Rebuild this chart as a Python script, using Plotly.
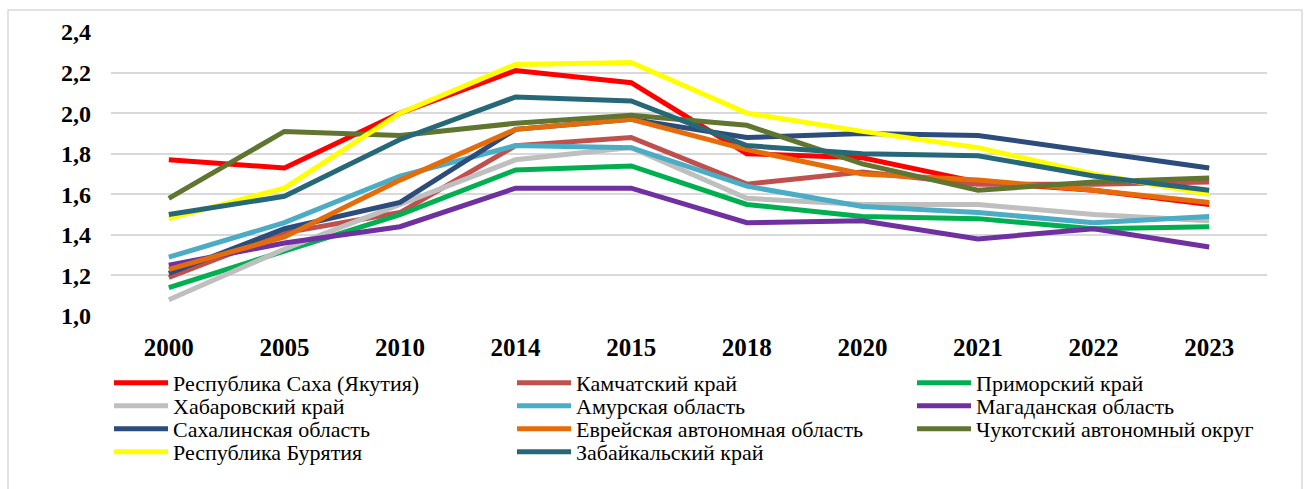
import plotly.graph_objects as go

years = ["2000", "2005", "2010", "2014", "2015", "2018", "2020", "2021", "2022", "2023"]

saha = [1.77, 1.73, 2.00, 2.21, 2.15, 1.80, 1.78, 1.66, 1.62, 1.55]
kamchatka = [1.19, 1.41, 1.51, 1.84, 1.88, 1.65, 1.71, 1.65, 1.65, 1.66]
primorsky = [1.14, 1.32, 1.50, 1.72, 1.74, 1.55, 1.49, 1.48, 1.43, 1.44]
khabarovsk = [1.08, 1.33, 1.55, 1.77, 1.83, 1.58, 1.55, 1.55, 1.50, 1.47]
amur = [1.29, 1.46, 1.69, 1.84, 1.83, 1.64, 1.54, 1.51, 1.46, 1.49]
magadan = [1.25, 1.36, 1.44, 1.63, 1.63, 1.46, 1.47, 1.38, 1.43, 1.34]
sakhalin = [1.21, 1.43, 1.56, 1.92, 1.97, 1.88, 1.90, 1.89, 1.81, 1.73]
jewish = [1.23, 1.39, 1.67, 1.92, 1.97, 1.82, 1.70, 1.67, 1.62, 1.56]
chukotka = [1.58, 1.91, 1.89, 1.95, 1.99, 1.94, 1.75, 1.62, 1.66, 1.68]
buryatia = [1.48, 1.63, 2.00, 2.24, 2.25, 2.00, 1.91, 1.83, 1.70, 1.60]
zabaykalsky = [1.50, 1.59, 1.87, 2.08, 2.06, 1.84, 1.80, 1.79, 1.69, 1.62]

series = [
    ("Республика Саха (Якутия)", saha, "#FF0000"),
    ("Камчатский край", kamchatka, "#C0504D"),
    ("Приморский край", primorsky, "#00B050"),
    ("Хабаровский край", khabarovsk, "#BFBFBF"),
    ("Амурская область", amur, "#4BACC6"),
    ("Магаданская область", magadan, "#7030A0"),
    ("Сахалинская область", sakhalin, "#2C4C7C"),
    ("Еврейская автономная область", jewish, "#E46C0A"),
    ("Чукотский автономный округ", chukotka, "#5F7530"),
    ("Республика Бурятия", buryatia, "#FFFF00"),
    ("Забайкальский край", zabaykalsky, "#276878"),
]

FONT = "Liberation Serif"

W, H = 1308, 489
ml, mr, mt, mb = 111, 41, 32, 173
PW, PH = W - ml - mr, H - mt - mb

col_px = [114, 517, 917]
row_px = [383, 406, 429, 452]

fig = go.Figure()
layout_legends = {}
for i, (name, vals, color) in enumerate(series):
    key = "legend" if i == 0 else f"legend{i + 1}"
    fig.add_trace(go.Scatter(
        x=years, y=vals, name=name, mode="lines",
        line=dict(color=color, width=5),
        legend=key,
    ))
    r, c = divmod(i, 3)
    layout_legends[key] = dict(
        x=(col_px[c] - 5 - ml) / PW, xanchor="left",
        y=(H - mb - row_px[r]) / PH, yanchor="middle",
        font=dict(family=FONT, size=22, color="black"),
        bgcolor="rgba(0,0,0,0)", borderwidth=0,
        itemwidth=54,
    )

fig.update_layout(
    width=W, height=H,
    margin=dict(l=ml, r=mr, t=mt, b=mb, autoexpand=False),
    paper_bgcolor="white", plot_bgcolor="white",
    showlegend=True,
    xaxis=dict(
        type="category",
        range=[-0.5, 9.5],
        showgrid=False, zeroline=False, showline=False,
        ticks="",
        tickfont=dict(family=FONT, size=25, color="black", weight="bold"),
        ticklabelstandoff=14,
    ),
    yaxis=dict(
        range=[1.0, 2.4],
        tickvals=[1.0, 1.2, 1.4, 1.6, 1.8, 2.0, 2.2, 2.4],
        ticktext=["1,0", "1,2", "1,4", "1,6", "1,8", "2,0", "2,2", "2,4"],
        showgrid=True, gridcolor="#D9D9D9", gridwidth=1.5,
        zeroline=False, showline=False, ticks="",
        tickfont=dict(family=FONT, size=24, color="black", weight="bold"),
        ticklabelstandoff=19,
    ),
    **layout_legends,
)

fig.add_shape(
    type="rect", xref="paper", yref="paper",
    x0=(8 - ml) / PW, x1=(1302 - ml) / PW,
    y0=-0.7, y1=(H - 10 - mb) / PH,
    line=dict(color="#D9D9D9", width=1.5), fillcolor="rgba(0,0,0,0)",
    layer="below",
)

fig.write_html("out.html", config={"displayModeBar": False},
               post_script="document.body.style.margin='0';")
